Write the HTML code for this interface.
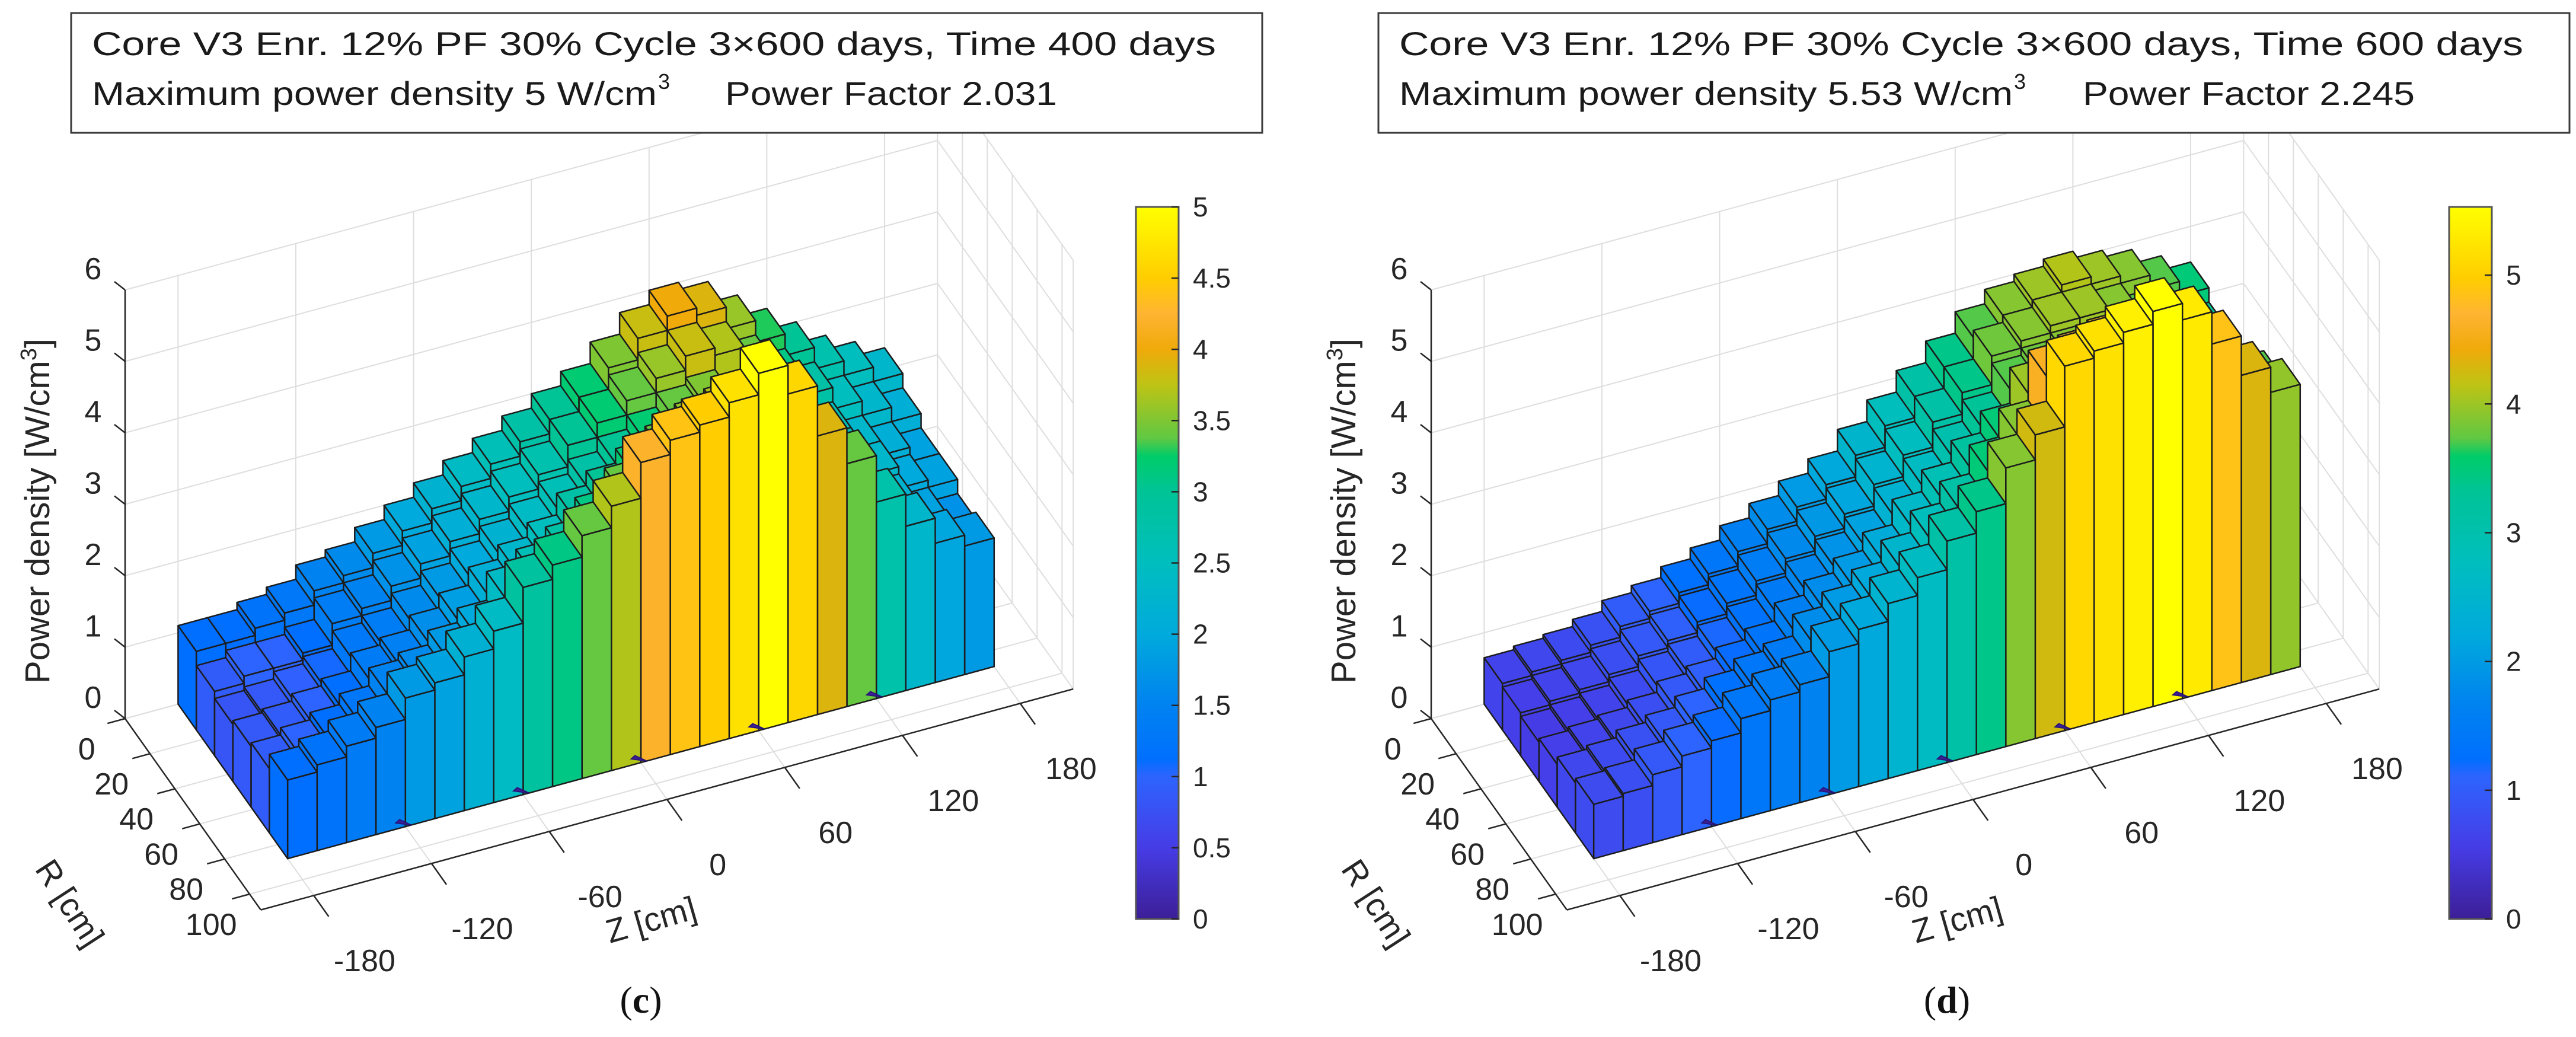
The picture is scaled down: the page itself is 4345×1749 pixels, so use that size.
<!DOCTYPE html>
<html><head><meta charset="utf-8"><style>
html,body{margin:0;padding:0;background:#fff;}
svg{display:block;font-family:"Liberation Sans",Arial,sans-serif;}
</style></head><body>
<svg id="fig" width="4345" height="1749" viewBox="0 0 4345 1749" xmlns="http://www.w3.org/2000/svg">
<defs>
<linearGradient id="gradC" x1="0" y1="1" x2="0" y2="0"></linearGradient>
<linearGradient id="gradD" x1="0" y1="1" x2="0" y2="0"></linearGradient>
</defs>
<g id="layer"></g>
</svg>
<script>
// ---- data ----
const zCenters = [-172.5,-157.5,-142.5,-127.5,-112.5,-97.5,-82.5,-67.5,-52.5,-37.5,-22.5,-7.5,7.5,22.5,37.5,52.5,67.5,82.5,97.5,112.5,127.5,142.5,157.5,172.5];
const rRowsInner = [0,14.67,29.33,44,58.67,73.33];
const zTicks = [-180,-120,-60,0,60,120,180];
const rTicks = [0,20,40,60,80,100];
const hTicks = [0,1,2,3,4,5,6];
const zeroMarks = [-120,-60,0,60,120];
// panel (c) power density rows: back (R~0) to front (R~88)
const cRow0 = [1.1,1.1,1.2,1.3,1.5,1.6,1.8,2.0,2.2,2.4,2.6,2.8,3.0,3.2,3.5,3.8,4.0,3.9,3.6,3.3,3.0,2.7,2.5,2.3];
const cRow1 = [0.9,1.0,1.0,1.1,1.4,1.5,1.7,1.9,2.1,2.3,2.5,2.7,3.0,3.2,3.4,3.6,3.8,3.7,3.4,3.1,2.8,2.5,2.3,2.1];
const cRow2 = [0.8,0.85,0.95,1.05,1.3,1.4,1.6,1.8,2.0,2.2,2.4,2.6,2.8,3.0,3.2,3.4,3.5,3.4,3.2,2.9,2.6,2.3,2.1,1.9];
const cRow3 = [0.85,0.9,1.0,1.1,1.35,1.45,1.65,1.85,2.1,2.3,2.5,2.8,3.0,3.2,3.4,3.6,3.7,3.5,3.3,3.0,2.6,2.3,2.0,1.9];
const cRow4 = [0.9,1.0,1.1,1.25,1.5,1.6,1.8,2.0,2.4,2.6,2.8,3.1,3.4,3.6,3.8,4.0,4.2,3.9,3.5,3.1,2.5,2.2,1.9,1.7];
const cRow5 = [1.1,1.2,1.35,1.5,1.8,1.9,2.15,2.4,2.9,3.1,3.4,3.7,4.2,4.4,4.5,4.7,5.0,4.6,3.9,3.4,2.75,2.3,1.95,1.8];
// panel (d)
const dRow0 = [0.65,0.7,0.75,0.85,1.0,1.1,1.25,1.4,1.6,1.8,2.0,2.2,2.5,2.8,3.1,3.4,3.7,3.9,4.0,4.1,4.0,3.9,3.7,3.5];
const dRow1 = [0.6,0.65,0.7,0.8,0.95,1.05,1.2,1.35,1.55,1.75,1.95,2.15,2.45,2.75,3.1,3.4,3.8,3.9,4.0,4.0,3.9,3.7,3.5,3.3];
const dRow2 = [0.55,0.6,0.65,0.75,0.9,1.0,1.15,1.3,1.5,1.7,1.9,2.1,2.4,2.7,3.0,3.3,3.7,3.8,3.9,3.9,3.8,3.6,3.4,3.2];
const dRow3 = [0.6,0.65,0.7,0.8,0.95,1.05,1.2,1.35,1.6,1.8,2.0,2.25,2.6,2.9,3.2,3.5,4.0,4.1,4.2,4.3,4.1,3.9,3.6,3.4];
const dRow4 = [0.7,0.75,0.85,0.95,1.1,1.25,1.4,1.5,1.8,2.0,2.2,2.5,2.8,3.1,3.5,3.9,4.6,4.7,4.8,4.9,4.7,4.4,4.0,3.7];
const dRow5 = [0.76,0.8,0.95,1.1,1.2,1.4,1.55,1.65,2.0,2.2,2.45,2.7,3.1,3.4,3.9,4.25,5.1,5.2,5.35,5.53,5.3,4.85,4.3,3.95];
const cTicksBar = [0,0.5,1,1.5,2,2.5,3,3.5,4,4.5,5];
const dTicksBar = [0,1,2,3,4,5];

// ---- style constants ----
const CMAP = [[0,[60,30,150]],[0.1,[70,60,230]],[0.2,[45,100,255]],[0.22,[0,110,255]],[0.3,[0,130,240]],[0.4,[0,170,220]],[0.5,[0,190,190]],[0.6,[0,195,150]],[0.655,[0,205,100]],[0.67,[90,200,70]],[0.75,[190,195,20]],[0.8,[240,170,10]],[0.85,[255,180,50]],[0.9,[255,205,0]],[1,[255,255,0]]];
function cmap(t){
  t=Math.max(0,Math.min(1,t));
  for(let i=1;i<CMAP.length;i++){
    if(t<=CMAP[i][0]){
      const a=CMAP[i-1],b=CMAP[i];const f=(t-a[0])/(b[0]-a[0]);
      const c=a[1].map((v,k)=>Math.round(v+(b[1][k]-v)*f));
      return 'rgb('+c.join(',')+')';
    }
  }
  return 'rgb(255,255,0)';
}
const NS='http://www.w3.org/2000/svg';
const layer=document.getElementById('layer');
function el(tag,attrs,parent){const e=document.createElementNS(NS,tag);for(const k in attrs)e.setAttribute(k,attrs[k]);(parent||layer).appendChild(e);return e;}
const ZMIN=-207,ZMAX=207,RMAX=109,RBAR=88,ZW=15,RW=RBAR/6;
function makeProj(ox){return function(z,r,h){return [ox+(z-ZMIN)*3.31+r*2.1, 1212-(z-ZMIN)*0.9+r*2.96-h*120.5];};}
function pts(arr){return arr.map(p=>p[0].toFixed(1)+','+p[1].toFixed(1)).join(' ');}

function drawPanel(cfg){
  const P=makeProj(cfg.ox);
  const g=el('g',{});
  
  
  const grid=el('g',{stroke:'#dedede','stroke-width':2,fill:'none'},g);
  
  
  function line(a,b,parent,attrs){const l=el('line',Object.assign({x1:a[0],y1:a[1],x2:b[0],y2:b[1]},attrs||{}),parent);return l;}
  // back wall (R=0)
  zTicks.forEach(z=>{const l=line(P(z,0,0),P(z,0,6),grid);});
  hTicks.forEach(h=>{const l=line(P(ZMIN,0,h),P(ZMAX,0,h),grid);});
  // right wall (Z=max)
  rTicks.forEach(r=>{const l=line(P(ZMAX,r,0),P(ZMAX,r,6),grid);});
  hTicks.forEach(h=>{const l=line(P(ZMAX,0,h),P(ZMAX,RMAX,h),grid);});
  const ce=line(P(ZMAX,RMAX,0),P(ZMAX,RMAX,6),grid);
  
  
  // floor
  zTicks.forEach(z=>{const l=line(P(z,0,0),P(z,RMAX,0),grid);});
  rTicks.forEach(r=>{const l=line(P(ZMIN,r,0),P(ZMAX,r,0),grid);});
  // axes
  const ax=el('g',{stroke:'#262626','stroke-width':2.5,fill:'none'},g);
  
  
  let a1=line(P(ZMIN,0,0),P(ZMIN,0,6),ax);
  let a2=line(P(ZMIN,0,0),P(ZMIN,RMAX,0),ax);
  let a3=line(P(ZMIN,RMAX,0),P(ZMAX,RMAX,0),ax);
  const txt=el('g',{fill:'#262626','font-size':52},g);
  
  
  hTicks.forEach(h=>{
    const p=P(ZMIN,0,h);
    const t=line(p,[p[0]-18,p[1]-14],ax);
    const lb=el('text',{x:p[0]-54,y:p[1]-35,'text-anchor':'middle','dominant-baseline':'central'},txt);
    
    
    lb.textContent=String(h);
  });
  rTicks.forEach(r=>{
    const p=P(ZMIN,r,0),q=P(ZMIN-9,r,0);
    const t=line(p,q,ax);
    const s=P(ZMIN-22,r,0);
    const lb=el('text',{x:s[0]+8,y:s[1]+32,'text-anchor':'middle','dominant-baseline':'central'},txt);
    
    
    lb.textContent=String(r);
  });
  zTicks.forEach(z=>{
    const p=P(z,RMAX,0),q=P(z,RMAX+12,0);
    const t=line(p,q,ax);
    const s=P(z,RMAX+36,0);
    const lb=el('text',{x:s[0]+10,y:s[1]+4,'text-anchor':'middle','dominant-baseline':'central'},txt);
    
    
    lb.textContent=String(z);
  });
  // bars
  const bars=el('g',{stroke:'#1c1c1c','stroke-width':2.5,'stroke-linejoin':'round'},g);
  
  
  for(let ri=0;ri<cfg.rows.length;ri++){
    const vals=cfg.rows[ri];
    const r0=rRowsInner[ri],r1=r0+RW;
    for(let zi=zCenters.length-1;zi>=0;zi--){
      const h=vals[zi];const z0=zCenters[zi]-ZW/2,z1=zCenters[zi]+ZW/2;
      const col=cmap(h/cfg.cmax);
      const bg=el('g',{fill:col},bars);
      
      
      const left=el('polygon',{points:pts([P(z0,r0,0),P(z0,r1,0),P(z0,r1,h),P(z0,r0,h)])},bg);
      
      
      const front=el('polygon',{points:pts([P(z0,r1,0),P(z1,r1,0),P(z1,r1,h),P(z0,r1,h)])},bg);
      
      
      const top=el('polygon',{points:pts([P(z0,r0,h),P(z1,r0,h),P(z1,r1,h),P(z0,r1,h)])},bg);
      
      
    }
  }
  zeroMarks.forEach(z=>{
    const m=el('polygon',{points:pts([P(z-3,RBAR-3,0),P(z+3,RBAR,0),P(z-3,RBAR,0.12)]),fill:'rgb(60,30,150)',stroke:'rgb(40,20,120)','stroke-width':2},g);
    
    
  });
  // axis titles
  const o=cfg.ox-211;
  const yt=el('text',{x:0,y:0,'font-size':58,fill:'#262626','text-anchor':'middle',transform:'translate('+(63+o+20)+',862) rotate(-90)'},g);
  
  
  yt.innerHTML='Power  density  [W/cm<tspan font-size="38" dy="-22">3</tspan><tspan dy="22">]</tspan>';
  const rt=el('text',{x:0,y:0,'font-size':56,fill:'#262626','text-anchor':'middle','dominant-baseline':'central',transform:'translate('+(118+o)+',1523) rotate(57)'},g);
  
  
  rt.textContent='R [cm]';
  const zt=el('text',{x:0,y:0,'font-size':56,fill:'#262626','text-anchor':'middle','dominant-baseline':'central',transform:'translate('+(1098+o)+',1551) rotate(-16)'},g);
  
  
  zt.textContent='Z [cm]';
  // colorbar
  const grad=document.getElementById(cfg.grad);
  for(let i=0;i<=40;i++){const s=document.createElementNS(NS,'stop');s.setAttribute('offset',(i/40));s.setAttribute('stop-color',cmap(i/40));grad.appendChild(s);}
  const cb=el('g',{},g);
  
  
  const cy0=349,cy1=1550;
  const rect=el('rect',{x:cfg.cbx,y:cy0,width:72,height:cy1-cy0,fill:'url(#'+cfg.grad+')',stroke:'#555','stroke-width':3},cb);
  
  
  cfg.cbTicks.forEach(v=>{
    const y=cy1-(v/cfg.cmax)*(cy1-cy0);
    const t=el('line',{x1:cfg.cbx+60,x2:cfg.cbx+72,y1:y,y2:y,stroke:'#262626','stroke-width':2.5},cb);
    
    
    const lb=el('text',{x:cfg.cbx+96,y:y,'font-size':46,fill:'#262626','dominant-baseline':'central'},cb);
    
    
    lb.textContent=String(v);
  });
  // title box
  const tb=el('g',{},g);
  
  
  const br=el('rect',{x:cfg.bx,y:22,width:2009,height:202,fill:'#fff',stroke:'#3a3a3a','stroke-width':3},tb);
  
  
  const l1=el('text',{x:cfg.tx,y:93,'font-size':56,fill:'#1a1a1a',textLength:1896,lengthAdjust:'spacingAndGlyphs'},tb);
  
  
  l1.textContent=cfg.line1;
  const l2=el('text',{x:cfg.tx,y:177,'font-size':56,fill:'#1a1a1a',textLength:cfg.l2w,lengthAdjust:'spacingAndGlyphs'},tb);
  
  
  l2.textContent=cfg.line2;
  const sup=el('text',{x:cfg.tx+cfg.l2w+2,y:150,'font-size':36,fill:'#1a1a1a'},tb);
  
  
  sup.textContent='3';
  const l3=el('text',{x:cfg.pfx,y:177,'font-size':56,fill:'#1a1a1a',textLength:560,lengthAdjust:'spacingAndGlyphs'},tb);
  
  
  l3.textContent=cfg.line3;
  const cap=el('text',{x:cfg.capx,y:1708,'font-size':64,fill:'#111','text-anchor':'middle','font-family':'"Liberation Serif",serif'},g);
  
  
  cap.innerHTML='(<tspan font-weight="bold">'+cfg.cap+'</tspan>)';
}
drawPanel({name:'panel-c',ox:211,cmax:5,rows:[cRow0,cRow1,cRow2,cRow3,cRow4,cRow5],grad:'gradC',cbx:1916,cbTicks:cTicksBar,bx:120,tx:155,
  line1:'Core  V3  Enr.  12%  PF  30%    Cycle  3×600  days,  Time    400  days',line2:'Maximum  power  density  5  W/cm',l2w:953,pfx:1223,line3:'Power  Factor  2.031',capx:1081,cap:'c'});
drawPanel({name:'panel-d',ox:2414,cmax:5.53,rows:[dRow0,dRow1,dRow2,dRow3,dRow4,dRow5],grad:'gradD',cbx:4131,cbTicks:dTicksBar,bx:2325,tx:2360,
  line1:'Core  V3  Enr.  12%  PF  30%    Cycle  3×600  days,  Time    600  days',line2:'Maximum  power  density  5.53  W/cm',l2w:1035,pfx:3513,line3:'Power  Factor  2.245',capx:3284,cap:'d'});
</script>
</body></html>
